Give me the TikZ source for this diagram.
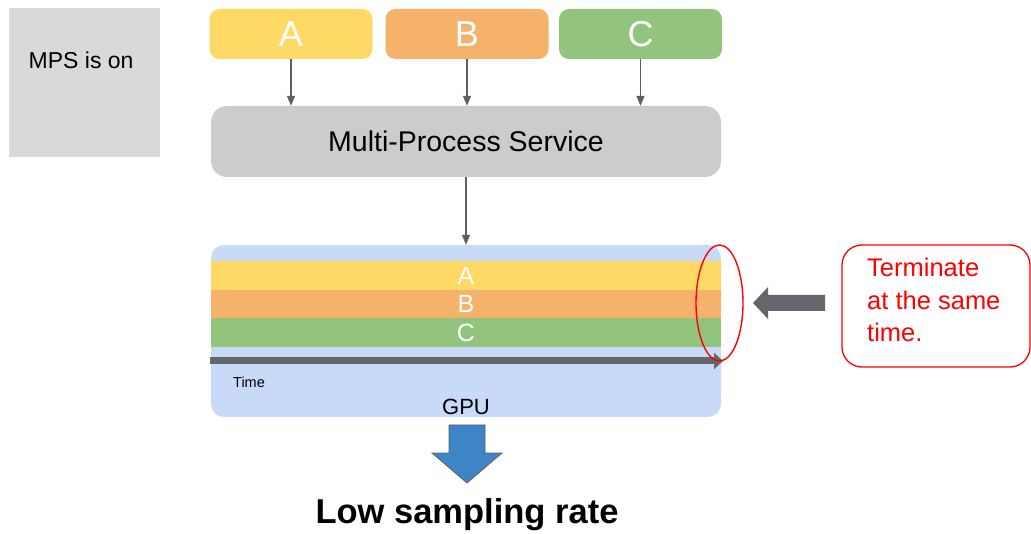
\documentclass[tikz,border=0pt]{standalone}
\usepackage{fontspec}
\setmainfont{Liberation Sans}
\usetikzlibrary{arrows.meta,shapes.geometric}

\definecolor{mpsbg}{HTML}{D9D9D9}
\definecolor{pyellow}{HTML}{FFD966}
\definecolor{porange}{HTML}{F6B26B}
\definecolor{pgreen}{HTML}{93C47D}
\definecolor{svcgray}{HTML}{CCCCCC}
\definecolor{gpublue}{HTML}{C9DAF8}
\definecolor{linkgray}{HTML}{5F5F5F}
\definecolor{timegray}{HTML}{63676B}
\definecolor{downblue}{HTML}{3D85C6}
\definecolor{alertred}{HTML}{FF0000}

\tikzset{
  proc/.style={rectangle, rounded corners=10pt, minimum width=163pt, minimum height=50pt,
               inner sep=0pt, text=white, font=\fontsize{36}{40}\selectfont},
  band/.style={rectangle, minimum width=510pt, inner sep=0pt, text=white,
               font=\fontsize{25}{28}\selectfont},
  link/.style={draw=linkgray, line width=1.3pt, -{Triangle[length=10pt,width=8pt]}},
  note/.style={text=alertred, font=\fontsize{25.5}{30}\selectfont, anchor=base west, inner sep=0pt},
}

\begin{document}
\begin{tikzpicture}[x=1pt, y=-1pt]
\useasboundingbox (0,0) rectangle (1031,534);

% status panel
\node[rectangle, fill=mpsbg, minimum width=151pt, minimum height=149pt, inner sep=0pt] (status) at (84.5,82.5) {};
\node[anchor=base west, inner sep=0pt, font=\fontsize{23}{26}\selectfont] (statustxt) at (28.5,69) {MPS is on};

% client processes
\node[proc, fill=pyellow] (pa) at (291,34) {A};
\node[proc, fill=porange] (pb) at (467,34) {B};
\node[proc, fill=pgreen]  (pc) at (640.5,34) {C};

% multi-process service
\node[rectangle, rounded corners=16pt, fill=svcgray, minimum width=510pt, minimum height=71pt,
      inner sep=0pt, font=\fontsize{28.5}{32}\selectfont] (mps) at (466,141.5) {Multi-Process Service};

\draw[link] (pa.south) -- (pa.south |- mps.north);
\draw[link] (pb.south) -- (pb.south |- mps.north);
\draw[link] (pc.south) -- (pc.south |- mps.north);

% GPU
\node[rectangle, rounded corners=13pt, fill=gpublue, minimum width=510pt, minimum height=172pt,
      inner sep=0pt] (gpu) at (466,331) {};
\draw[link] (mps.south) -- (mps.south |- gpu.north);

\node[band, fill=pyellow, minimum height=29pt] (ka) at (466,275.5) {A};
\node[band, fill=porange, minimum height=28pt] (kb) at (466,304) {B};
\node[band, fill=pgreen,  minimum height=29pt] (kc) at (466,332.5) {C};

% time axis
\coordinate (t0) at (210,361);
\coordinate (t1) at (723,361);
\draw[timegray, line width=7pt, -{Triangle[length=9pt,width=16pt]}] (t0) -- (t1);
\node[anchor=base west, inner sep=0pt, font=\fontsize{14.5}{16}\selectfont] (timelbl) at (233,388) {Time};
\node[anchor=base, inner sep=0pt, font=\fontsize{22}{25}\selectfont] (gpulbl) at (466,415) {GPU};

% end-of-run highlight
\node[ellipse, draw=alertred, line width=1.4pt, minimum width=47pt, minimum height=116pt, inner sep=0pt] (endmark) at (719.5,303) {};

% pointer to the highlight
\fill[timegray] (825,295) -- (768,295) -- (768,287) -- (753,303) -- (768,319) -- (768,311) -- (825,311) -- cycle;

% annotation
\node[rectangle, rounded corners=20pt, draw=alertred, line width=1.3pt, fill=white,
      minimum width=188pt, minimum height=122pt, inner sep=0pt] (notebox) at (936,306) {};
\node[note] (n1) at (867,277) {Terminate};
\node[note] (n2) at (867,310) {at the same};
\node[note] (n3) at (867,342) {time.};

% result
\filldraw[fill=downblue, draw=linkgray, line width=0.8pt]
  (449,425) -- (485,425) -- (485,453) -- (502,453) -- (467,483) -- (432,453) -- (449,453) -- cycle;
\node[anchor=base, inner sep=0pt, font=\bfseries\fontsize{34.5}{38}\selectfont] (result) at (467,523) {Low sampling rate};

\end{tikzpicture}
\end{document}
